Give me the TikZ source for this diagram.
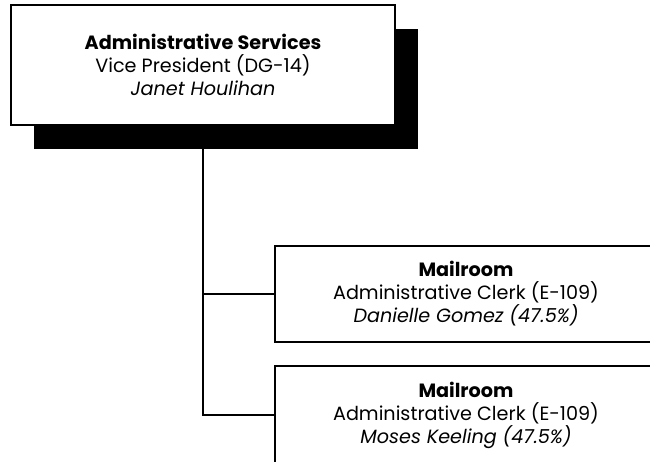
\documentclass[tikz,border=0pt]{standalone}
\usepackage{fontspec}
\setmainfont{Poppins}
\usetikzlibrary{shadows}
\begin{document}
\begin{tikzpicture}[x=1pt,y=-1pt,
  box/.style={draw=black,line width=1.8pt,fill=white,align=center,inner sep=0pt,
    font=\fontsize{19.2}{23}\selectfont},
  conn/.style={line width=1.8pt}]
\useasboundingbox (0,0) rectangle (650,461);
\clip (0,0) rectangle (650,461);
\node[box,minimum width=384pt,minimum height=120pt,
  drop shadow={shadow xshift=23pt,shadow yshift=-23.5pt,opacity=1,fill=black}]
  (top) at (203,65) {\textbf{Administrative Services}\\Vice President (DG-14)\\\textit{Janet Houlihan}};
\node[box,minimum width=382pt,minimum height=96pt] (m1) at (466,294)
  {\textbf{Mailroom}\\Administrative Clerk (E-109)\\\textit{Danielle Gomez (47.5\%)}};
\node[box,minimum width=382pt,minimum height=98pt] (m2) at (466,415)
  {\textbf{Mailroom}\\Administrative Clerk (E-109)\\\textit{Moses Keeling (47.5\%)}};
\draw[conn] (top.south) |- (m1.west);
\draw[conn] (top.south) |- (m2.west);
\end{tikzpicture}
\end{document}
